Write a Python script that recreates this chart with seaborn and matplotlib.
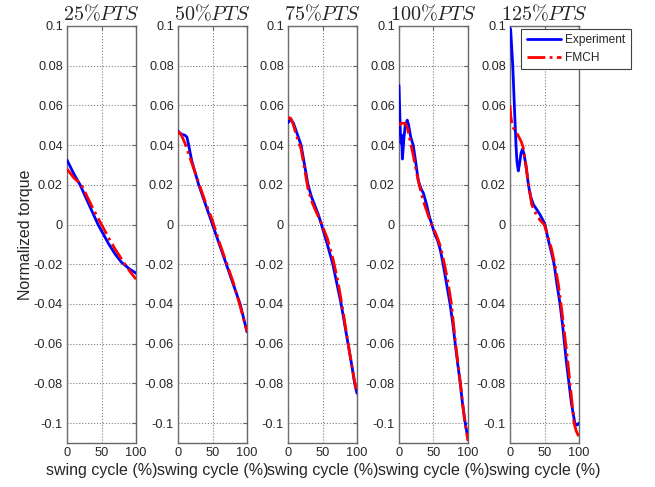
import numpy as np
import pandas as pd
import matplotlib
matplotlib.use("Agg")
import matplotlib.pyplot as plt
import seaborn as sns

# Swing-phase torque: measured vs. FMCH model, five PTS levels
titles = [r"$25\%PTS$", r"$50\%PTS$", r"$75\%PTS$", r"$100\%PTS$", r"$125\%PTS$"]
x_ticks = [0, 50, 100]
y_ticks = [-0.1, -0.08, -0.06, -0.04, -0.02, 0, 0.02, 0.04, 0.06, 0.08, 0.1]

exp_25_x = [0, 10, 19, 30, 45, 60, 70, 79, 90, 100]
exp_25_y = [0.0325, 0.0255, 0.020, 0.0115, 0.0, -0.0095, -0.0150, -0.0190, -0.0222, -0.0245]
fmch_25_x = [0, 10, 21, 30, 40, 50, 60, 70, 84, 92, 100]
fmch_25_y = [0.028, 0.0235, 0.020, 0.0135, 0.0065, 0.0, -0.0065, -0.0125, -0.020, -0.024, -0.0275]

exp_50_x = [0, 5, 10, 13, 16, 20, 25, 30, 40, 50, 60, 70, 80, 90, 95, 100]
exp_50_y = [0.047, 0.0455, 0.045, 0.044, 0.039, 0.032, 0.026, 0.020, 0.010, 0.0, -0.010,
            -0.020, -0.030, -0.040, -0.047, -0.054]
fmch_50_x = [0, 5, 10, 20, 30, 40, 50, 60, 70, 80, 90, 100]
fmch_50_y = [0.047, 0.045, 0.041, 0.031, 0.021, 0.011, 0.002, -0.009, -0.019, -0.029, -0.041, -0.054]

exp_75_x = [0, 4, 8, 12, 19, 24, 29, 34, 38.5, 44, 48.5, 57, 65, 71, 77, 82, 87, 92, 96.6, 100]
exp_75_y = [0.0513, 0.053, 0.051, 0.047, 0.040, 0.030, 0.020, 0.014, 0.010, 0.005, 0.0, -0.010,
            -0.020, -0.030, -0.040, -0.050, -0.060, -0.070, -0.080, -0.085]
fmch_75_x = [0, 4, 8, 12, 19, 24, 29, 34, 40, 48, 57, 65, 72, 78, 84, 90, 96, 100]
fmch_75_y = [0.054, 0.0535, 0.050, 0.045, 0.038, 0.028, 0.018, 0.012, 0.007, 0.001, -0.007,
             -0.017, -0.028, -0.040, -0.053, -0.066, -0.078, -0.085]

exp_100_x = [0, 1, 2, 3, 3.8, 5, 7, 9, 12, 14, 17, 20.6, 24, 28, 32, 35.5, 40, 44, 47.6, 52,
             56, 60, 64, 69, 74, 78, 81.5, 85, 88.8, 92, 96, 98.5]
exp_100_y = [0.070, 0.058, 0.046, 0.041, 0.045, 0.033, 0.043, 0.050, 0.0526, 0.050, 0.044,
             0.040, 0.032, 0.022, 0.018, 0.0157, 0.010, 0.004, 0.0, -0.005, -0.008, -0.013,
             -0.020, -0.030, -0.040, -0.050, -0.060, -0.070, -0.080, -0.090, -0.100, -0.105]
fmch_100_x = [0, 3, 6, 9, 12, 15, 20, 25, 30, 35, 40, 45, 50, 55, 60, 66, 71, 76, 82, 89,
              95.5, 100]
fmch_100_y = [0.050, 0.051, 0.051, 0.051, 0.049, 0.044, 0.036, 0.027, 0.019, 0.012, 0.007,
              0.002, -0.002, -0.006, -0.011, -0.020, -0.029, -0.040, -0.060, -0.080, -0.100,
              -0.109]

exp_125_x = [0, 1, 4, 6.3, 8.7, 10, 12, 14, 16, 18, 20, 23, 26.7, 30, 34, 38, 43.5, 48, 50.7,
             55, 60, 64, 68, 72.5, 76, 79, 82, 85.5, 89, 94, 97, 100]
exp_125_y = [0.099, 0.098, 0.080, 0.060, 0.040, 0.032, 0.027, 0.031, 0.036, 0.038, 0.036,
             0.030, 0.020, 0.014, 0.010, 0.008, 0.005, 0.002, 0.0, -0.007, -0.014, -0.020,
             -0.030, -0.040, -0.050, -0.060, -0.070, -0.080, -0.090, -0.100, -0.101, -0.100]
fmch_125_x = [0, 1, 3, 6, 10, 13, 16, 19, 23, 27, 31.5, 38, 44, 49.7, 55, 60, 65, 70, 75,
              80.7, 84, 87, 90, 92.8, 96, 100]
fmch_125_y = [0.060, 0.055, 0.050, 0.048, 0.046, 0.044, 0.042, 0.039, 0.030, 0.020, 0.010,
              0.005, 0.002, 0.0, -0.006, -0.012, -0.020, -0.030, -0.043, -0.060, -0.070,
              -0.080, -0.090, -0.100, -0.104, -0.107]

experiment = [(exp_25_x, exp_25_y), (exp_50_x, exp_50_y), (exp_75_x, exp_75_y),
              (exp_100_x, exp_100_y), (exp_125_x, exp_125_y)]
fmch = [(fmch_25_x, fmch_25_y), (fmch_50_x, fmch_50_y), (fmch_75_x, fmch_75_y),
        (fmch_100_x, fmch_100_y), (fmch_125_x, fmch_125_y)]

sns.set_style("white")
plt.rcParams["font.family"] = ["Liberation Sans", "DejaVu Sans"]
plt.rcParams["mathtext.fontset"] = "cm"

W, H = 655, 487
fig = plt.figure(figsize=(W / 100, H / 100), dpi=100)

lefts = [67, 178, 288, 399, 510]
ax_w = 69
ax_top, ax_bot = 26, 443
axes = []
for i, lx in enumerate(lefts):
    ax = fig.add_axes([lx / W, 1 - ax_bot / H, ax_w / W, (ax_bot - ax_top) / H])
    axes.append(ax)

    ex, ey = experiment[i]
    fx, fy = fmch[i]
    sns.lineplot(x=ex, y=ey, ax=ax, color="#0000ff", linewidth=2.0, label="Experiment",
                 zorder=3)
    sns.lineplot(x=fx, y=fy, ax=ax, color="#ff0000", linewidth=2.0, linestyle="-.",
                 label="FMCH", zorder=4)
    if ax.get_legend() is not None:
        ax.get_legend().remove()

    ax.set_xlim(0, 100)
    ax.set_ylim(-0.11, 0.1)
    ax.set_xticks(x_ticks)
    ax.set_yticks(y_ticks)
    ax.set_yticklabels([("%g" % v) if v != 0 else "0" for v in y_ticks])
    ax.grid(True, linestyle=":", color="0.5", linewidth=0.8)
    ax.set_axisbelow(False)
    for s in ax.spines.values():
        s.set_color("0.4")
        s.set_linewidth(1.0)
        s.set_visible(True)
    ax.tick_params(direction="in", length=3, width=0.8, color="0.4",
                   top=True, right=True, labelsize=9.2, pad=3)
    ax.set_title(titles[i], fontsize=14.5, pad=4)
    ax.set_xlabel("swing cycle (%)", fontsize=11.5, labelpad=3)
    ax.set_ylabel("")

axes[0].set_ylabel("Normalized torque", fontsize=11.5)
axes[0].yaxis.set_label_coords(-0.49, 0.5)

# Legend sits in the top-right corner, overhanging the last panel
handles = axes[4].get_lines()[:2]
leg = axes[4].legend(handles, ["Experiment", "FMCH"], loc="upper right",
                     bbox_to_anchor=(631 / W, 1 - 29 / H), bbox_transform=fig.transFigure,
                     borderaxespad=0, fontsize=8.6, handlelength=2.9, fancybox=False,
                     framealpha=1, edgecolor="0.25", borderpad=0.45, labelspacing=0.45,
                     handletextpad=0.35)
leg.get_frame().set_linewidth(0.8)

fig.savefig("out.png", dpi=100)
